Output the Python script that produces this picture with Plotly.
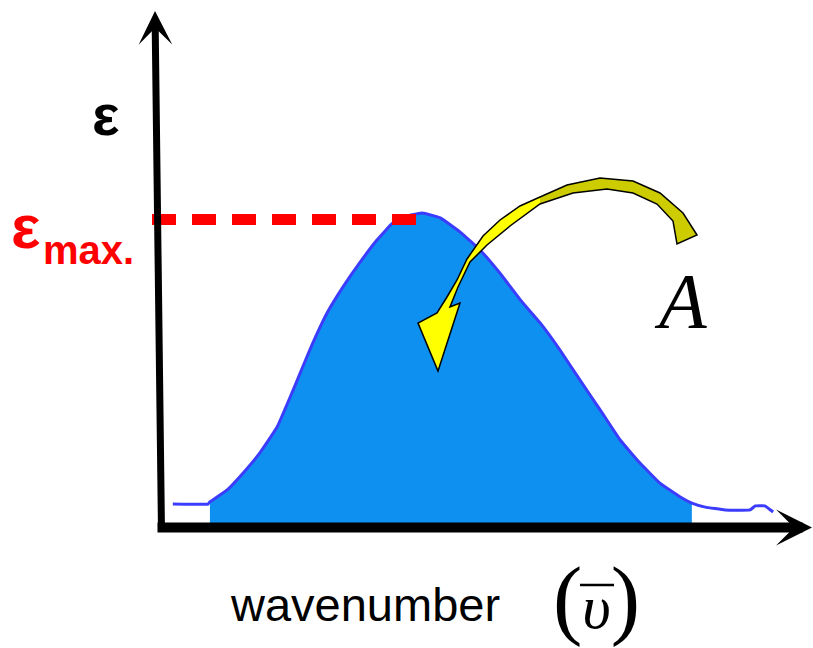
import plotly.graph_objects as go

# ---- data (arbitrary units: wavenumber axis 0..100, absorptivity eps, eps_max = 1) ----
wavenumber = [2.0, 7.5, 7.8, 10.5, 13.0, 15.6, 18.3, 20.8, 23.4, 26.1, 28.6, 31.3, 33.9,
              36.4, 39.1, 41.0, 43.8, 46.9, 50.0, 53.1, 56.3, 59.4, 62.5, 65.6, 68.8,
              71.9, 75.0, 78.1, 81.3, 83.1, 85.2, 88.3, 92.2, 93.0, 94.5, 95.8]
epsilon = [0.068, 0.068, 0.075, 0.114, 0.169, 0.234, 0.318, 0.438, 0.568, 0.688, 0.773,
           0.854, 0.925, 0.981, 1.006, 1.013, 0.997, 0.951, 0.893, 0.818, 0.731, 0.656,
           0.568, 0.471, 0.373, 0.276, 0.201, 0.136, 0.091, 0.071, 0.058, 0.049, 0.049,
           0.062, 0.062, 0.042]
fill_start, fill_end = 7.8, 83.1        # integrated band (area A)
eps_max = 1.0
peak_wavenumber = 40.5

x_label = "wavenumber"
x_symbol = "υ"
y_label = "ε"
eps_max_label = "max."
area_label = "A"

W, H = 813, 648
X_RANGE = [-25.0, 102.03]
Y_RANGE = [-0.3994, 1.7045]

def paper(px, py):
    return px / W, 1 - py / H

def data(px, py):
    return (X_RANGE[0] + px / W * (X_RANGE[1] - X_RANGE[0]),
            Y_RANGE[1] - py / H * (Y_RANGE[1] - Y_RANGE[0]))

def ppath(points):
    s = ""
    for i, (px, py) in enumerate(points):
        x, y = paper(px, py)
        s += ("M" if i == 0 else "L") + f"{x:.5f},{y:.5f} "
    return s + "Z"

fill_x = [w for w in wavenumber if fill_start <= w <= fill_end]
fill_y = [e for w, e in zip(wavenumber, epsilon) if fill_start <= w <= fill_end]

fig = go.Figure()
fig.add_trace(go.Scatter(x=fill_x, y=fill_y, mode="lines", fill="tozeroy",
                         line=dict(width=0, shape="spline", smoothing=0.3),
                         fillcolor="#0e90f0", hoverinfo="skip", showlegend=False))
fig.add_trace(go.Scatter(x=wavenumber, y=epsilon, mode="lines",
                         line=dict(color="#3c3cff", width=3, shape="spline", smoothing=0.3),
                         showlegend=False))

shapes = []
# eps_max dashed line
dash_x0, _ = data(152, 0)
shapes.append(dict(type="line", xref="x", yref="y", x0=dash_x0, x1=peak_wavenumber - 0.5,
                   y0=eps_max - 0.008, y1=eps_max - 0.008,
                   line=dict(color="#ff0000", width=11, dash="24px,16px")))

# yellow curved arrow
outer = [(697, 235), (683, 213), (660, 193), (633, 181), (600, 178), (567, 185), (540, 197),
         (520, 206), (500, 220), (483, 236), (467, 259), (457, 280), (447, 297), (437, 313)]
head = [(418, 323), (438, 371), (460, 303), (450, 307)]
inner = [(458, 287), (470, 262), (487, 245), (510, 226), (540, 204), (573, 193), (607, 189),
         (633, 193), (657, 204), (673, 221), (677, 244)]
full = outer + head + inner
olive = outer[:7] + inner[4:]
shapes.append(dict(type="path", xref="paper", yref="paper", path=ppath(full),
                   fillcolor="#ffff00", line=dict(width=0)))
shapes.append(dict(type="path", xref="paper", yref="paper", path=ppath(olive),
                   fillcolor="#cccc00", line=dict(width=0)))
shapes.append(dict(type="path", xref="paper", yref="paper", path=ppath(full),
                   fillcolor="rgba(0,0,0,0)", line=dict(color="black", width=1.5)))
# overline of the wavenumber symbol
x0, y0 = paper(580, 585)
x1, _ = paper(614, 585)
shapes.append(dict(type="line", xref="paper", yref="paper", x0=x0, x1=x1, y0=y0, y1=y0,
                   line=dict(color="black", width=2.5)))

ann = []
# axes with arrowheads
tx, ty = data(156, 527.5)
hx, hy = data(812, 527.5)
ann.append(dict(xref="x", yref="y", axref="x", ayref="y", x=hx, y=hy, ax=tx, ay=ty,
                text="", showarrow=True, arrowhead=3, arrowsize=0.6, arrowwidth=10,
                arrowcolor="black", standoff=0, startstandoff=0))
tx, ty = data(161.5, 532)
hx, hy = data(155, 11)
ann.append(dict(xref="x", yref="y", axref="x", ayref="y", x=hx, y=hy, ax=tx, ay=ty,
                text="", showarrow=True, arrowhead=3, arrowsize=0.8, arrowwidth=7,
                arrowcolor="black", standoff=0, startstandoff=0))

SANS = "Liberation Sans, Arial, sans-serif"
SERIF = "Liberation Serif, Times New Roman, serif"

def label(px, py, text, size, color="black", family=SANS):
    x, y = paper(px, py)
    ann.append(dict(xref="paper", yref="paper", x=x, y=y, text=text, showarrow=False,
                    xanchor="center", yanchor="middle",
                    font=dict(size=size, color=color, family=family)))

label(106, 114, f"<b>{y_label}</b>", 58)
label(26, 226, f"<b>{y_label}</b>", 62, color="#ff0000")
label(88, 250, f"<b>{eps_max_label}</b>", 40, color="#ff0000")
label(680, 301, f"<i>{area_label}</i>", 78, family=SERIF)
label(365, 604, x_label, 47)
label(596, 598,
      f"<span style='font-size:88px'>(</span><i>{x_symbol}</i>"
      f"<span style='font-size:88px'>)</span>", 62, family=SERIF)

fig.update_layout(
    width=W, height=H, margin=dict(l=0, r=0, t=0, b=0),
    paper_bgcolor="white", plot_bgcolor="white",
    xaxis=dict(range=X_RANGE, visible=False, fixedrange=True),
    yaxis=dict(range=Y_RANGE, visible=False, fixedrange=True),
    shapes=shapes, annotations=ann, showlegend=False,
)
fig.write_html("out.html", config={"displayModeBar": False},
               post_script="document.body.style.margin='0px';")
